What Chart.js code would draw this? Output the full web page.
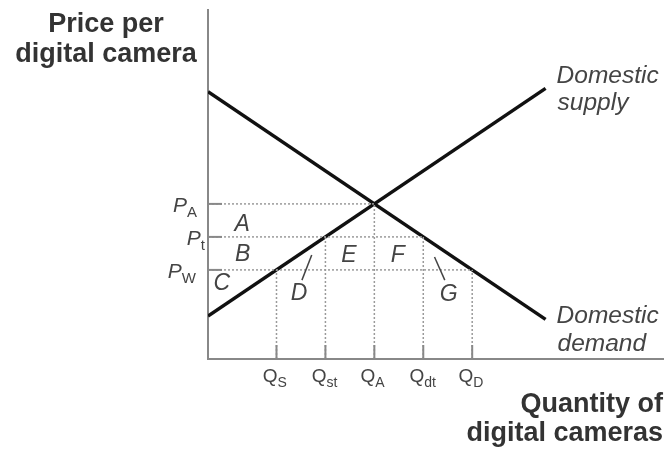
<!DOCTYPE html>
<html>
<head>
<meta charset="utf-8">
<script src="https://cdn.jsdelivr.net/npm/chart.js@4/dist/chart.umd.min.js"></script>
<style>
  html, body { margin: 0; padding: 0; background: #fff; }
  canvas { display: block; }
</style>
</head>
<body>
<canvas id="tariffChart" width="669" height="453"></canvas>
<script>
// Niveles de precio (P_A, P_t, P_W) y cantidades marcadas en el eje horizontal
const priceLevels = [47, 37, 27];
const priceSubs = ['A', 't', 'W'];
const quantities = [14, 24, 34, 44, 54];
const quantitySubs = ['S', 'st', 'A', 'dt', 'D'];

// Curvas de oferta y demanda domésticas
const supplyQ = [0, 69];
const supplyP = [13, 82];
const demandQ = [0, 69];
const demandP = [81, 12];

// Letras de las áreas
const areaLabels = ['A', 'B', 'C', 'D', 'E', 'F', 'G'];

const [pA, pT, pW] = priceLevels;
const [qS, qSt, qA, qDt, qD] = quantities;

const toPoints = (xs, ys) => xs.map((x, i) => ({ x, y: ys[i] }));

// Líneas punteadas de referencia: horizontales desde el eje y verticales hasta el eje
const guides = [
    [{ x: 0, y: pA }, { x: qA, y: pA }],
    [{ x: 0, y: pT }, { x: qDt, y: pT }],
    [{ x: 0, y: pW }, { x: qD, y: pW }],
    [{ x: qS, y: 0 }, { x: qS, y: pW }],
    [{ x: qSt, y: 0 }, { x: qSt, y: pT }],
    [{ x: qA, y: 0 }, { x: qA, y: pA }],
    [{ x: qDt, y: 0 }, { x: qDt, y: pT }],
    [{ x: qD, y: 0 }, { x: qD, y: pW }]
];

const guideDatasets = guides.map(g => ({
    data: g,
    showLine: true,
    borderColor: '#9a9a9a',
    borderWidth: 1.5,
    borderDash: [2, 2],
    pointRadius: 0
}));

const curveStyle = {
    showLine: true,
    borderColor: '#111',
    borderWidth: 3.5,
    borderCapStyle: 'butt',
    pointRadius: 0
};

// Posición de cada letra en unidades de datos (mismo orden que areaLabels)
const areaPos = [[7.0, 40.8], [7.1, 31.5], [2.8, 22.7], [18.6, 19.7], [28.8, 31.2], [38.8, 31.2], [49.2, 19.4]];
// Pequeñas flechas que señalan los triángulos D y G
const leaders = [[[21.2, 31.5], [19.2, 23.9]], [[46.3, 30.9], [48.4, 23.9]]];

const FONT = '"Liberation Sans", Arial, sans-serif';

const labelsPlugin = {
    id: 'labelsPlugin',
    afterDraw(chart) {
        const { ctx, scales: { x, y } } = chart;
        const px = v => x.getPixelForValue(v);
        const py = v => y.getPixelForValue(v);
        const x0 = px(0), y0 = py(0);
        ctx.save();

        // marcas cortas sobre los ejes
        ctx.strokeStyle = '#888';
        ctx.lineWidth = 2;
        priceLevels.forEach(p => {
            ctx.beginPath();
            ctx.moveTo(x0, py(p));
            ctx.lineTo(x0 + 14, py(p));
            ctx.stroke();
        });
        quantities.forEach(q => {
            ctx.beginPath();
            ctx.moveTo(px(q), y0);
            ctx.lineTo(px(q), y0 - 14);
            ctx.stroke();
        });

        // etiquetas P con subíndice
        const pOffsets = [0, -8, 1];
        priceLevels.forEach((p, i) => {
            const yy = py(p);
            const xr = x0 - 11 - pOffsets[i];
            ctx.fillStyle = '#444';
            ctx.font = `15px ${FONT}`;
            ctx.textAlign = 'left';
            const subW = ctx.measureText(priceSubs[i]).width;
            ctx.fillText(priceSubs[i], xr - subW, yy + 13);
            ctx.font = `italic 21px ${FONT}`;
            ctx.textAlign = 'right';
            ctx.fillText('P', xr - subW, yy + 8);
        });

        // etiquetas Q con subíndice
        quantities.forEach((q, i) => {
            const xx = px(q) + 1;
            ctx.fillStyle = '#444';
            ctx.font = `19px ${FONT}`;
            ctx.textAlign = 'right';
            ctx.fillText('Q', xx, y0 + 23);
            ctx.font = `14px ${FONT}`;
            ctx.textAlign = 'left';
            ctx.fillText(quantitySubs[i], xx, y0 + 28);
        });

        // letras de las áreas
        ctx.fillStyle = '#444';
        ctx.font = `italic 23px ${FONT}`;
        ctx.textAlign = 'center';
        ctx.textBaseline = 'middle';
        areaLabels.forEach((t, i) => {
            ctx.fillText(t, px(areaPos[i][0]), py(areaPos[i][1]));
        });
        ctx.strokeStyle = '#444';
        ctx.lineWidth = 1.5;
        leaders.forEach(([a, b]) => {
            ctx.beginPath();
            ctx.moveTo(px(a[0]), py(a[1]));
            ctx.lineTo(px(b[0]), py(b[1]));
            ctx.stroke();
        });

        // nombres de las curvas
        ctx.textBaseline = 'alphabetic';
        ctx.textAlign = 'left';
        ctx.font = `italic 24.5px ${FONT}`;
        const sEnd = { x: px(supplyQ[1]), y: py(supplyP[1]) };
        const dEnd = { x: px(demandQ[1]), y: py(demandP[1]) };
        ctx.fillText('Domestic', sEnd.x + 11, sEnd.y - 5);
        ctx.fillText('supply', sEnd.x + 12, sEnd.y + 22);
        ctx.fillText('Domestic', dEnd.x + 11, dEnd.y + 4);
        ctx.fillText('demand', dEnd.x + 12, dEnd.y + 32);

        // títulos de los ejes
        ctx.fillStyle = '#333';
        ctx.font = `bold 27px ${FONT}`;
        ctx.textAlign = 'center';
        ctx.fillText('Price per', 106, 32);
        ctx.fillText('digital camera', 106, 62);
        ctx.textAlign = 'right';
        ctx.fillText('Quantity of', 663, 412);
        ctx.fillText('digital cameras', 663, 441);

        ctx.restore();
    }
};

new Chart(document.getElementById('tariffChart'), {
    type: 'scatter',
    data: {
        datasets: [
            ...guideDatasets,
            { ...curveStyle, data: toPoints(supplyQ, supplyP) },
            { ...curveStyle, data: toPoints(demandQ, demandP) }
        ]
    },
    options: {
        responsive: false,
        animation: false,
        layout: { padding: { top: 10, right: 6, left: 0, bottom: 0 } },
        plugins: { legend: { display: false }, tooltip: { enabled: false } },
        scales: {
            x: {
                type: 'linear',
                min: 0,
                max: 93,
                grid: { display: false },
                ticks: { display: false },
                border: { color: '#888', width: 2 },
                afterFit(scale) { scale.height = 94; }
            },
            y: {
                type: 'linear',
                min: 0,
                max: 105.76,
                grid: { display: false },
                ticks: { display: false },
                border: { color: '#888', width: 2 },
                afterFit(scale) { scale.width = 208; }
            }
        }
    },
    plugins: [labelsPlugin]
});
</script>
</body>
</html>
